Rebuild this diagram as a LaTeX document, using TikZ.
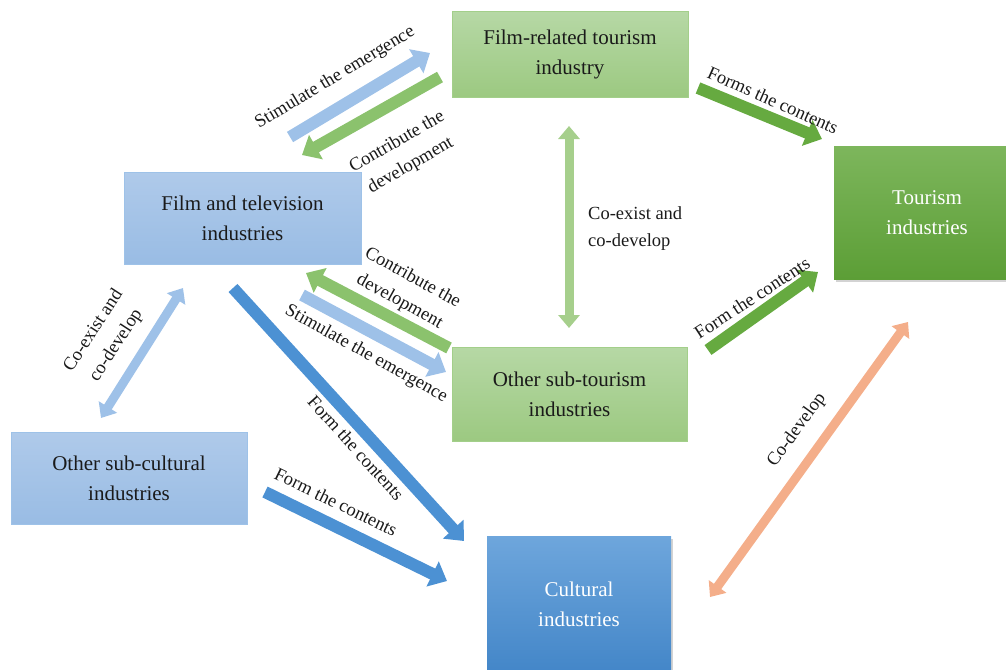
\documentclass[tikz,border=0pt]{standalone}
\usepackage{fontspec}
\setmainfont{Liberation Serif}
\usetikzlibrary{arrows.meta,shadows}

% box fills
\definecolor{gboxtop}{HTML}{B6D8A5}
\definecolor{gboxbot}{HTML}{9CC981}
\definecolor{gboxline}{HTML}{A3CF8A}
\definecolor{bboxtop}{HTML}{AFCAEA}
\definecolor{bboxbot}{HTML}{99BCE4}
\definecolor{bboxline}{HTML}{9EC2E8}
\definecolor{tourtop}{HTML}{7DB65C}
\definecolor{tourbot}{HTML}{5C9E36}
\definecolor{cultop}{HTML}{6EA6DC}
\definecolor{culbot}{HTML}{4386C8}
\definecolor{txt}{HTML}{1A1A1A}
% arrow fills
\definecolor{arBlueLt}{HTML}{9EC1E8}
\definecolor{arBlue}{HTML}{4C91D3}
\definecolor{arGreenLt}{HTML}{A6CF8C}
\definecolor{arGreen}{HTML}{8BC26D}
\definecolor{arGreenDk}{HTML}{66AA40}
\definecolor{arOrange}{HTML}{F4AE8A}

\newcommand{\boxfont}{\fontsize{21}{30}\selectfont}
\newcommand{\labfont}{\fontsize{18.5}{27}\selectfont}

\begin{document}
\begin{tikzpicture}[x=1pt,y=-1pt,
  basebox/.style={rectangle, inner sep=0pt, align=center, font=\boxfont},
  greenbox/.style={basebox, draw=gboxline, line width=1pt, top color=gboxtop, bottom color=gboxbot, text=txt},
  bluebox/.style={basebox, draw=bboxline, line width=1pt, top color=bboxtop, bottom color=bboxbot, text=txt},
  tourbox/.style={basebox, top color=tourtop, bottom color=tourbot, text=white,
    drop shadow={shadow xshift=1.5pt, shadow yshift=-2.5pt, opacity=0.35}},
  culbox/.style={basebox, top color=cultop, bottom color=culbot, text=white,
    drop shadow={shadow xshift=1.5pt, shadow yshift=-2.5pt, opacity=0.35}},
  bigarrow/.style={line width=12pt, -{Triangle[length=16pt,width=27pt]}},
  dblarrow/.style={line width=9pt, {Triangle[length=13pt,width=21pt]}-{Triangle[length=13pt,width=21pt]}},
  lab/.style={inner sep=0pt, font=\labfont, text=txt, align=center}]

\clip (0,0) rectangle (1006,669);

% industry boxes
\node[greenbox, minimum width=236pt, minimum height=85pt] (frt) at (570,54.5) {Film-related tourism\\industry};
\node[tourbox, minimum width=186pt, minimum height=133pt] (tour) at (927,212.5) {Tourism\\industries};
\node[bluebox, minimum width=237pt, minimum height=92pt] (ftv) at (242.5,218) {Film and television\\industries};
\node[greenbox, minimum width=235pt, minimum height=94pt] (ost) at (569.5,394) {Other sub-tourism\\industries};
\node[bluebox, minimum width=236pt, minimum height=92pt] (osc) at (129,478) {Other sub-cultural\\industries};
\node[culbox, minimum width=184pt, minimum height=137pt] (cul) at (579,604.5) {Cultural\\industries};

% arrow end points
\coordinate (a1s) at (290,137);  \coordinate (a1e) at (430,53);
\coordinate (a2s) at (440,77);   \coordinate (a2e) at (302,155);
\coordinate (a3s) at (698,88);   \coordinate (a3e) at (822,139);
\coordinate (a4s) at (569,126);  \coordinate (a4e) at (569,328);
\coordinate (a5s) at (449,348);  \coordinate (a5e) at (306,273);
\coordinate (a6s) at (302,295);  \coordinate (a6e) at (446,372);
\coordinate (a7s) at (708,350);  \coordinate (a7e) at (818,272);
\coordinate (a8s) at (710,597);  \coordinate (a8e) at (908,322);
\coordinate (a9s) at (233,288);  \coordinate (a9e) at (464,541);
\coordinate (a10s) at (265,492); \coordinate (a10e) at (447,581);
\coordinate (a11s) at (183,288); \coordinate (a11e) at (101,418);

% block arrows
\draw[bigarrow, arBlueLt] (a1s) -- (a1e);
\draw[bigarrow, arGreen] (a2s) -- (a2e);
\draw[bigarrow, arGreenDk] (a3s) -- (a3e);
\draw[dblarrow, arGreenLt] (a4s) -- (a4e);
\draw[bigarrow, arGreen] (a5s) -- (a5e);
\draw[bigarrow, arBlueLt] (a6s) -- (a6e);
\draw[bigarrow, arGreenDk] (a7s) -- (a7e);
\draw[dblarrow, arOrange] (a8s) -- (a8e);
\draw[bigarrow, arBlue] (a9s) -- (a9e);
\draw[bigarrow, arBlue] (a10s) -- (a10e);
\draw[dblarrow, arBlueLt] (a11s) -- (a11e);

% arrow labels
\node[lab, rotate=31] (l1) at (335,78) {Stimulate the emergence};
\node[lab, rotate=30] (l2) at (404,154) {Contribute the\\development};
\node[lab, rotate=-24] (l3) at (773,100) {Forms the contents};
\node[lab, anchor=west, align=left] (l4) at (588,229) {Co-exist and\\co-develop};
\node[lab, rotate=-29] (l5) at (406,290) {Contribute the\\development};
\node[lab, rotate=-29] (l6) at (366,354) {Stimulate the emergence};
\node[lab, rotate=33] (l7) at (752,298) {Form the contents};
\node[lab, rotate=54] (l8) at (797,430) {Co-develop};
\node[lab, rotate=-48] (l9) at (356,448) {Form the contents};
\node[lab, rotate=-26] (l10) at (336,502) {Form the contents};
\node[lab, rotate=57] (l11) at (105,338) {Co-exist and\\co-develop};

\end{tikzpicture}
\end{document}
